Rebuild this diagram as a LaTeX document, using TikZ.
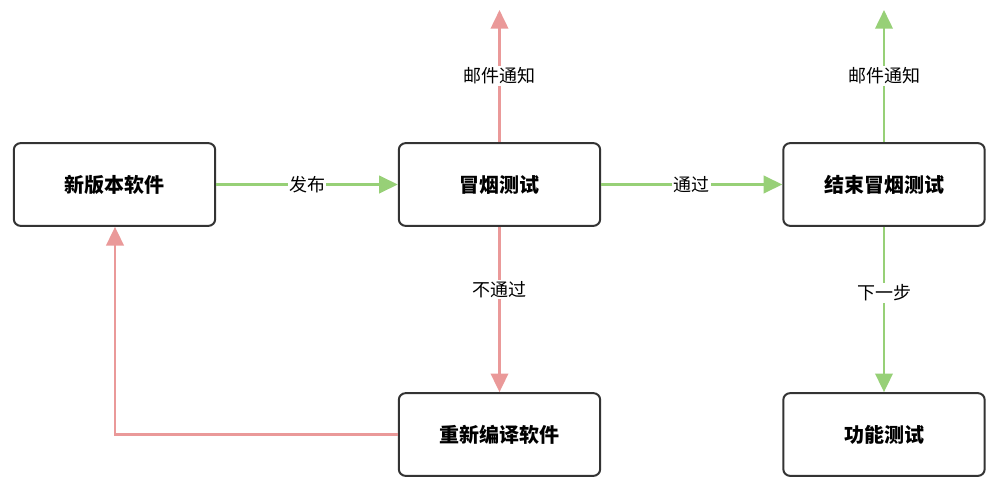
\documentclass[tikz,border=0pt]{standalone}
\usepackage{fontspec}
\setmainfont{Noto Sans CJK SC}
\usetikzlibrary{arrows.meta}
\definecolor{gr}{HTML}{97D077}
\definecolor{rd}{HTML}{EA9999}
\begin{document}
\begin{tikzpicture}[x=0.75pt,y=-0.75pt,
  box/.style={draw=black!80,line width=1.5pt,rounded corners=5pt,minimum width=151pt,minimum height=62pt,font=\bfseries\fontsize{15}{18}\selectfont,fill=white},
  lbl/.style={fill=white,font=\fontsize{13.5}{16}\selectfont,inner sep=1pt},
  ga/.style={draw=gr,line width=2pt,-{Triangle[length=14pt,width=13pt]}},
  ra/.style={draw=rd,line width=2pt,-{Triangle[length=14pt,width=13pt]}}]
\useasboundingbox (0,0) rectangle (1004,485);
\node[box] (a) at (114.5,184.5) {新版本软件};
\node[box] (b) at (499.5,184.5) {冒烟测试};
\node[box] (c) at (884,184.5) {结束冒烟测试};
\node[box] (d) at (499.5,434.5) {重新编译软件};
\node[box] (e) at (884,434.5) {功能测试};
\coordinate (bt) at (499.5,10);
\coordinate (ct) at (884,10);
\coordinate (corner) at (115,434.5);
\draw[ga] (a) -- node[lbl]{发布} (b);
\draw[ga] (b) -- node[lbl]{通过} (c);
\draw[ra] (b) -- node[lbl,pos=0.5]{邮件通知} (bt);
\draw[ga] (c) -- node[lbl,pos=0.5]{邮件通知} (ct);
\draw[ra] (b) -- node[lbl,pos=0.38]{不通过} (d);
\draw[ga] (c) -- node[lbl,pos=0.4]{下一步} (e);
\draw[ra] (d.west) -- (corner) -- (a.south -| corner);
\end{tikzpicture}
\end{document}
